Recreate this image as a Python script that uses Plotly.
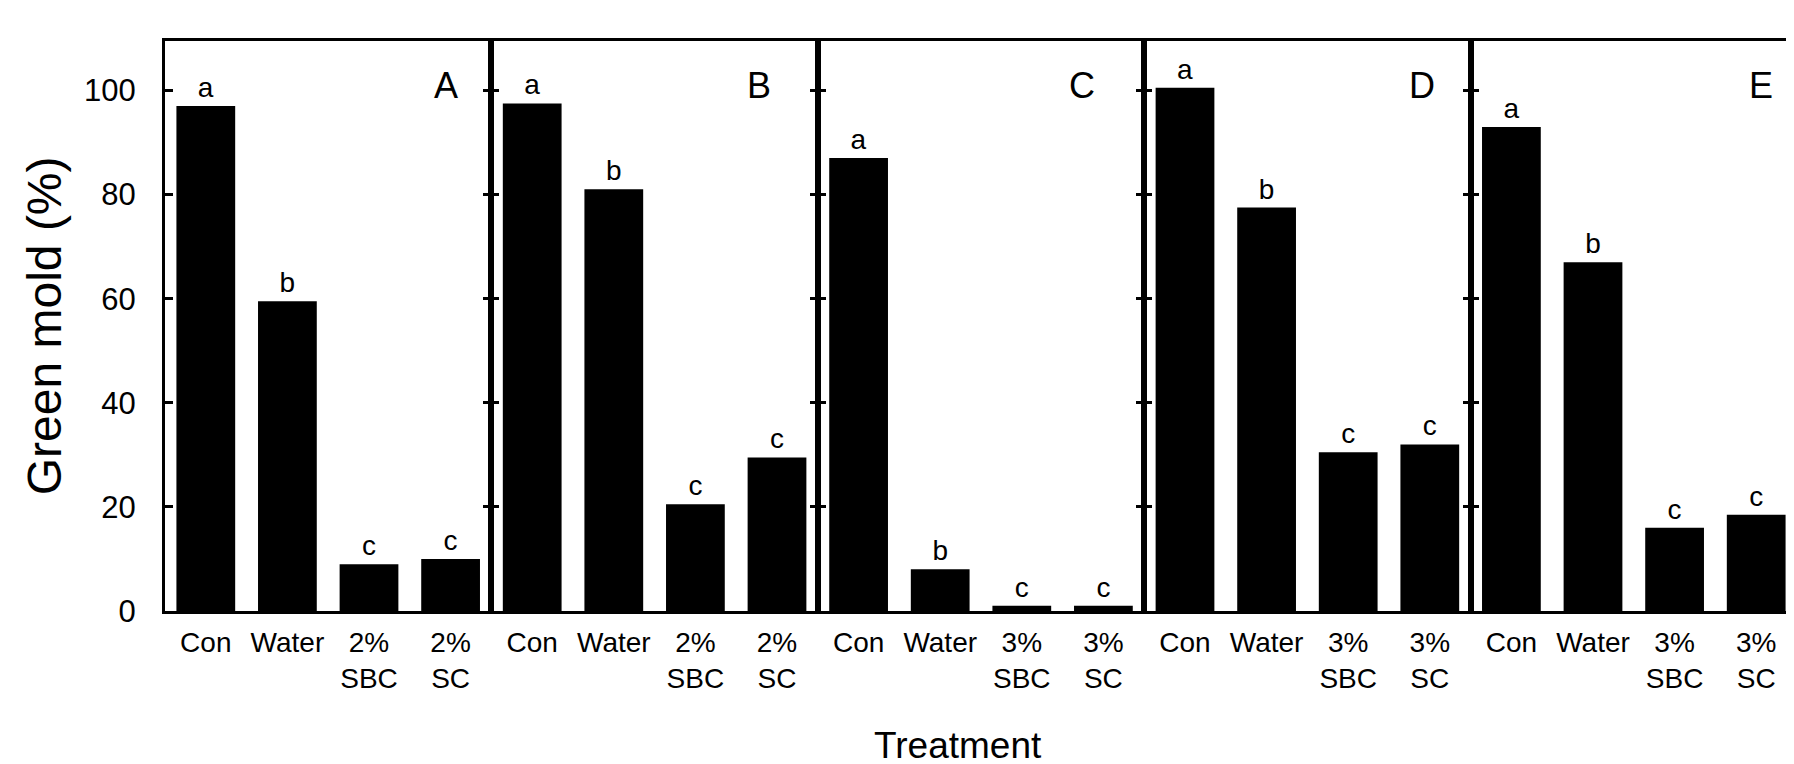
import plotly.graph_objects as go
from plotly.subplots import make_subplots

# ---- data ----
panel_labels = ["A", "B", "C", "D", "E"]
cats_2pct = ["Con", "Water", "2%<br>SBC", "2%<br>SC"]
cats_3pct = ["Con", "Water", "3%<br>SBC", "3%<br>SC"]
panel_categories = [cats_2pct, cats_2pct, cats_3pct, cats_3pct, cats_3pct]

values_A = [97, 59.5, 9, 10]
values_B = [97.5, 81, 20.5, 29.5]
values_C = [87, 8, 1, 1]
values_D = [100.5, 77.5, 30.5, 32]
values_E = [93, 67, 16, 18.5]
panel_values = [values_A, values_B, values_C, values_D, values_E]

letters_A = ["a", "b", "c", "c"]
letters_B = ["a", "b", "c", "c"]
letters_C = ["a", "b", "c", "c"]
letters_D = ["a", "b", "c", "c"]
letters_E = ["a", "b", "c", "c"]
panel_letters = [letters_A, letters_B, letters_C, letters_D, letters_E]

y_ticks = [0, 20, 40, 60, 80, 100]

# style: horizontal placement of the panel letters within each panel
label_pos = [0.86, 0.82, 0.81, 0.85, 0.89]

FONT = "Liberation Sans, Arial, Helvetica, sans-serif"

fig = make_subplots(rows=1, cols=5, shared_yaxes=True, horizontal_spacing=0)

for i in range(5):
    fig.add_trace(
        go.Bar(
            x=panel_categories[i],
            y=panel_values[i],
            text=panel_letters[i],
            textposition="outside",
            textfont=dict(size=28, color="black", family=FONT),
            marker=dict(color="black", line=dict(width=0)),
            cliponaxis=False,
            showlegend=False,
        ),
        row=1, col=i + 1,
    )
    sfx = "" if i == 0 else str(i + 1)
    fig.add_annotation(
        text=panel_labels[i],
        xref=f"x{sfx} domain", yref=f"y{sfx}",
        x=label_pos[i], y=101, xanchor="center", yanchor="middle",
        showarrow=False,
        font=dict(size=36, color="black", family=FONT),
    )

fig.update_xaxes(
    showline=True, linecolor="black", linewidth=3, mirror=True,
    ticks="", showgrid=False, zeroline=False,
    tickfont=dict(size=28, color="black", family=FONT),
    ticklabelstandoff=4,
)
fig.update_yaxes(
    range=[0, 109.5], tickvals=y_ticks,
    showline=True, linecolor="black", linewidth=3, mirror="ticks",
    ticks="inside", ticklen=8, tickwidth=3, tickcolor="black",
    showgrid=False, zeroline=False,
    tickfont=dict(size=31, color="black", family=FONT),
)
fig.update_yaxes(ticklabelstandoff=20, row=1, col=1)

fig.add_annotation(
    text="Green mold (%)", textangle=-90,
    xref="paper", yref="paper", x=-0.074, y=0.5,
    xanchor="center", yanchor="middle", showarrow=False,
    font=dict(size=48, color="black", family=FONT),
)
fig.add_annotation(
    text="Treatment",
    xref="paper", yref="paper", x=0.486, y=-0.236,
    xanchor="center", yanchor="middle", showarrow=False,
    font=dict(size=37, color="black", family=FONT),
)

fig.update_layout(
    width=1794, height=764,
    margin=dict(l=157, r=2, t=33, b=161),
    bargap=0.28,
    plot_bgcolor="white", paper_bgcolor="white",
    font=dict(family=FONT, color="black"),
)

fig.write_html("out.html")
